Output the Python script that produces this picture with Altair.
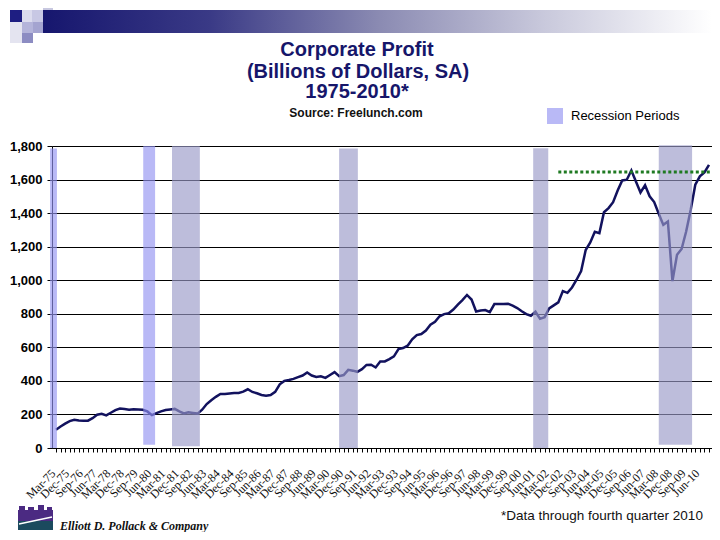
import json
import altair as alt
import pandas as pd

# ---------------- data ----------------
# Quarterly corporate profit, billions of dollars (Mar-75 .. Dec-10)
profit = [
    109, 128, 145, 160, 168, 164, 162, 163, 178, 198,
    204, 194, 210, 226, 235, 232, 228, 231, 230, 228,
    218, 196, 208, 218, 226, 230, 233, 218, 206, 213,
    209, 205, 228, 262, 285, 305, 322, 322, 325, 328,
    328, 336, 350, 334, 326, 316, 312, 316, 335, 380,
    400, 405, 412, 422, 432, 450, 432, 423, 427, 418,
    435, 452, 428, 435, 466, 461, 454, 470, 495, 496,
    480, 515, 516, 530, 546, 590, 596, 610, 648, 673,
    679, 700, 735, 752, 785, 798, 803, 825, 855, 882,
    912, 885, 814, 820, 822, 810, 858, 858, 858, 860,
    848, 834, 815, 798, 788, 812, 770, 780, 832, 850,
    868, 935, 925, 957, 1003, 1055, 1180, 1225, 1289, 1281,
    1405, 1430, 1465, 1535, 1595, 1599, 1654, 1589, 1523, 1566,
    1500, 1466, 1396, 1330, 1350, 995, 1152, 1186, 1290, 1420,
    1569, 1619, 1642, 1688,
]
quarter_index = list(range(len(profit)))

# x tick labels (every third quarter)
tick_labels = [
    "Mar-75", "Dec-75", "Sep-76", "Jun-77", "Mar-78", "Dec-78", "Sep-79", "Jun-80",
    "Mar-81", "Dec-81", "Sep-82", "Jun-83", "Mar-84", "Dec-84", "Sep-85", "Jun-86",
    "Mar-87", "Dec-87", "Sep-88", "Jun-89", "Mar-90", "Dec-90", "Sep-91", "Jun-92",
    "Mar-93", "Dec-93", "Sep-94", "Jun-95", "Mar-96", "Dec-96", "Sep-97", "Jun-98",
    "Mar-99", "Dec-99", "Sep-00", "Jun-01", "Mar-02", "Dec-02", "Sep-03", "Jun-04",
    "Mar-05", "Dec-05", "Sep-06", "Jun-07", "Mar-08", "Dec-08", "Sep-09", "Jun-10",
]

# recession periods (in quarter-index units) and their bar extents
rec_start = [-1.3, 19.1, 25.4, 62.0, 104.5, 132.0]
rec_end = [0.2, 21.7, 31.5, 66.1, 107.8, 139.3]
rec_low = [0, 20, 10, 0, 0, 20]
rec_high = [1785, 1800, 1800, 1785, 1787, 1805]
rec_shade = ["blue", "blue", "grey", "grey", "grey", "grey"]

# previous-peak reference level (dotted green)
peak_level = [1645]
peak_from = [110]

y_ticks = list(range(0, 1801, 200))
X_MIN, X_MAX = -0.88, 143.66

title_lines = ["Corporate Profit", "(Billions of Dollars, SA)", "1975-2010*"]
subtitle_text = "Source: Freelunch.com"
legend_text = "Recession Periods"
footnote_text = "*Data through fourth quarter 2010"
company_text = "Elliott D. Pollack & Company"

# ---------------- tables ----------------
df_line = pd.DataFrame({"t": quarter_index, "profit": profit})
df_rec = pd.DataFrame({"start": rec_start, "end": rec_end, "low": rec_low,
                       "high": rec_high, "shade": rec_shade})
df_peak = pd.DataFrame({"x0": peak_from, "x1": [X_MAX], "level": peak_level})

# ---------------- scales / axes ----------------
FONT = "Liberation Sans"
xs = alt.Scale(domain=[X_MIN, X_MAX], nice=False, zero=False)
ys = alt.Scale(domain=[0, 1800], nice=False, zero=True)

label_expr = f"datum.value % 3 == 0 ? {json.dumps(tick_labels)}[datum.value / 3] : ''"
x_axis = alt.Axis(
    values=quarter_index, labelExpr=label_expr, title=None, grid=False,
    labelAngle=-45, labelAlign="right", labelBaseline="middle",
    labelFont="Liberation Serif", labelFontSize=12, labelColor="#111111",
    labelOverlap=False, labelFlush=False, labelBound=False,
    labelPadding=19, labelOffset=-3,
    tickSize=4, tickColor="black", domainColor="black", domainWidth=1,
)
y_axis = alt.Axis(
    values=y_ticks, format=",d", title=None, grid=True, gridColor="black",
    gridWidth=1.1, labelFont=FONT, labelFontSize=13, labelFontWeight="bold",
    labelColor="black", labelPadding=5, tickSize=5, tickColor="black",
    domainColor="black", domainWidth=1,
)

line = alt.Chart(df_line).mark_line(color="#12125e", strokeWidth=2.5).encode(
    x=alt.X("t:Q", scale=xs, axis=x_axis),
    y=alt.Y("profit:Q", scale=ys, axis=y_axis),
)

bands = alt.Chart(df_rec).mark_rect(opacity=0.65).encode(
    x=alt.X("start:Q", scale=xs, axis=x_axis),
    x2="end:Q",
    y=alt.Y("low:Q", scale=ys, axis=y_axis),
    y2="high:Q",
    color=alt.Color(
        "shade:N",
        scale=alt.Scale(domain=["blue", "grey"], range=["#9393f1", "#9999c8"]),
        legend=alt.Legend(
            values=["blue"], labelExpr=f"'{legend_text}'", title=None,
            orient="none", legendX=495, legendY=-38, padding=0,
            symbolType="square", symbolSize=256, symbolStrokeWidth=0,
            symbolOpacity=0.65, labelFont=FONT, labelFontSize=13,
            labelColor="black", labelOffset=8,
        ),
    ),
)

peak = alt.Chart(df_peak).mark_rule(color="#1f7a22", strokeWidth=3,
                                    strokeDash=[3, 2.5]).encode(
    x=alt.X("x0:Q", scale=xs, axis=x_axis),
    x2="x1:Q",
    y=alt.Y("level:Q", scale=ys, axis=y_axis),
)

# ---------------- decorations (page furniture) ----------------
OX, OY = 52, 146  # page position of plot origin


def deco_rect(x0, y0, x1, y1, color):
    return alt.Chart(alt.Data(values=[{}])).mark_rect(color=color).encode(
        x=alt.value(x0 - OX), x2=alt.value(x1 - OX),
        y=alt.value(y0 - OY), y2=alt.value(y1 - OY),
    )


def deco_text(txt, x, y, align="left", **kw):
    return alt.Chart(alt.Data(values=[{}])).mark_text(
        text=txt, align=align, baseline="alphabetic", **kw
    ).encode(x=alt.value(x - OX), y=alt.value(y - OY))


grad = alt.LinearGradient(
    gradient="linear", x1=0, x2=1, y1=0, y2=0,
    stops=[
        alt.GradientStop(offset=0, color="#16166e"),
        alt.GradientStop(offset=0.25, color="#3a3a86"),
        alt.GradientStop(offset=0.5, color="#8a8ab2"),
        alt.GradientStop(offset=0.75, color="#c9c9dc"),
        alt.GradientStop(offset=1, color="#ffffff"),
    ],
)
top_bar = alt.Chart(alt.Data(values=[{}])).mark_rect(color=grad).encode(
    x=alt.value(43 - OX), x2=alt.value(712 - OX),
    y=alt.value(10 - OY), y2=alt.value(33 - OY),
)
squares = [
    deco_rect(10, 22, 22, 43, "#e4e4f0"),
    deco_rect(10, 10, 22, 22, "#1e1e82"),
    deco_rect(22, 10, 32, 22, "#dcdcee"),
    deco_rect(32, 10, 43, 22, "#c8c8e4"),
    deco_rect(43, 0, 53, 10, "#c8c8e0"),
    deco_rect(22, 22, 33, 33, "#b4b4da"),
    deco_rect(33, 22, 43, 33, "#a4a4d0"),
    deco_rect(22, 33, 33, 43, "#8c8cc2"),
]

TITLE_COLOR = "#16166a"
titles = [
    deco_text(title_lines[0], 357, 56, align="center", font=FONT, fontSize=20,
              fontWeight="bold", color=TITLE_COLOR),
    deco_text(title_lines[1], 358, 78, align="center", font=FONT, fontSize=20,
              fontWeight="bold", color=TITLE_COLOR),
    deco_text(title_lines[2], 357, 98, align="center", font=FONT, fontSize=20,
              fontWeight="bold", color=TITLE_COLOR),
    deco_text(subtitle_text, 356, 117, align="center", font=FONT, fontSize=12,
              fontWeight="bold", color="#111111"),
]

logo = [
    deco_rect(18, 510, 53, 521, "#4b2a82"),
    deco_rect(19, 506, 25, 510, "#4b2a82"),
    deco_rect(28, 507, 34, 510, "#4b2a82"),
    deco_rect(38, 505, 44, 510, "#4b2a82"),
    deco_rect(47, 507, 52, 510, "#4b2a82"),
    deco_rect(18, 521, 53, 530, "#1b4a5e"),
    alt.Chart(alt.Data(values=[{}])).mark_rule(color="white", strokeWidth=1.5).encode(
        x=alt.value(19 - OX), x2=alt.value(52 - OX),
        y=alt.value(524 - OY), y2=alt.value(517 - OY),
    ),
    deco_text(company_text, 60, 530, font="Liberation Serif",
              fontSize=12, fontWeight="bold", fontStyle="italic", color="#111111"),
]

footnote = deco_text(footnote_text, 501, 520, font=FONT, fontSize=13.5,
                     color="#111111")

chart = alt.layer(
    top_bar, *squares, *titles, line, bands, peak, *logo, footnote,
).properties(
    width=660, height=302,
    padding={"left": 44, "top": 138, "right": 0, "bottom": 84},
    autosize=alt.AutoSizeParams(type="none"),
).configure_view(stroke=None).configure(background="white")

chart.save("out.html", embed_options={"renderer": "svg", "actions": False})
